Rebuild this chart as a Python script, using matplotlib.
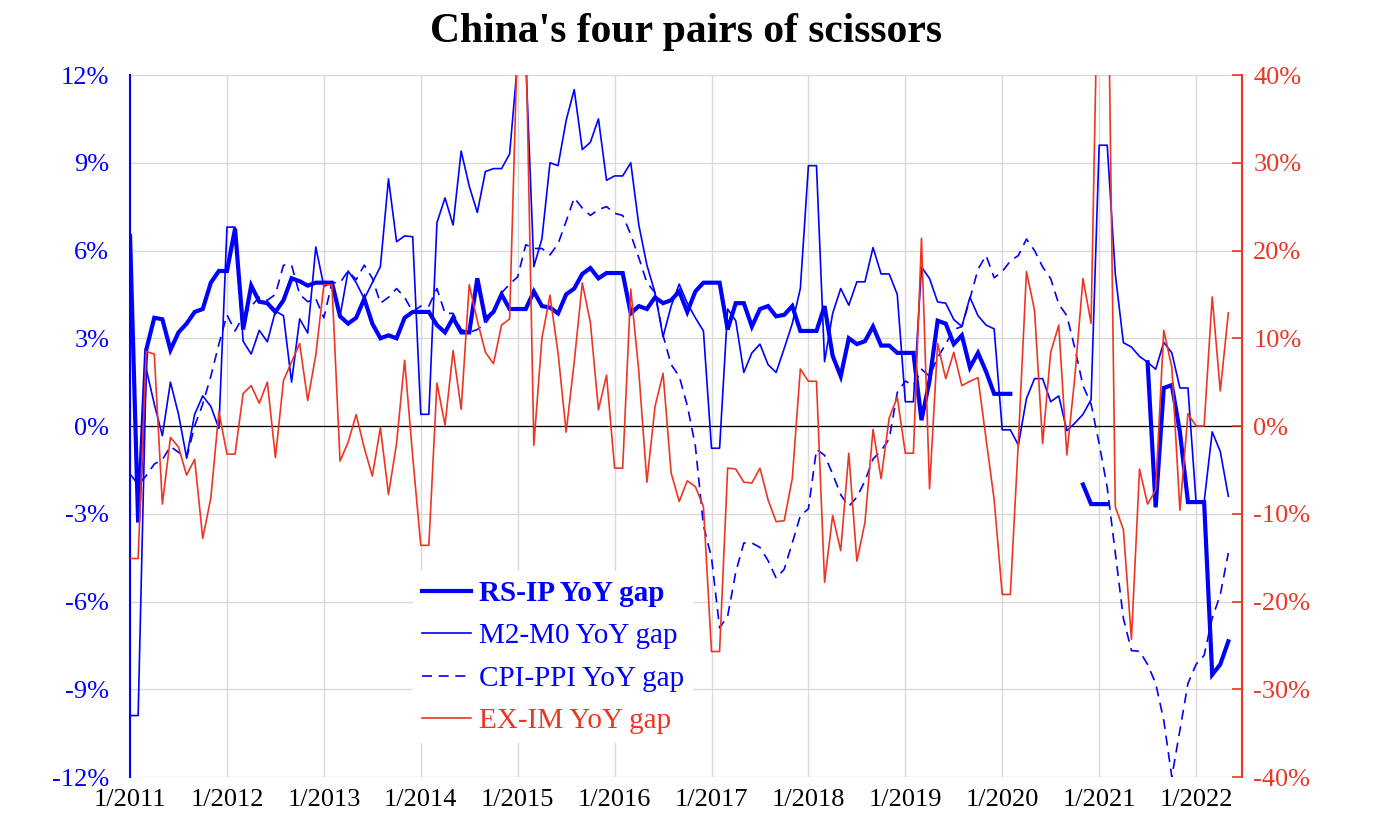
import numpy as np
import matplotlib
matplotlib.use("Agg")
import matplotlib.pyplot as plt

plt.rcParams['font.family'] = ['Liberation Serif', 'DejaVu Serif']

nan = np.nan
# Monthly data, Jan 2011 (index 0) .. May 2022 (index 136)
rs_ip = [6.5, -3.3, 2.6, 3.7, 3.65, 2.6, 3.2, 3.5, 3.9, 4.0, 4.9, 5.3,
         5.3, 6.75, 3.3, 4.8, 4.25, 4.2, 3.9, 4.3, 5.05, 4.95, 4.8, 4.9,
         4.9, 4.9, 3.75, 3.5, 3.7, 4.35, 3.5, 3.0, 3.1, 3.0, 3.7, 3.9,
         3.9, 3.9, 3.45, 3.2, 3.7, 3.2, 3.2, 5.05, 3.65, 3.9, 4.5, 4.0,
         4.0, 4.0, 4.6, 4.1, 4.05, 3.85, 4.5, 4.7, 5.2, 5.4, 5.05, 5.23,
         5.23, 5.23, 3.85, 4.1, 4.0, 4.4, 4.2, 4.3, 4.6, 3.9, 4.6, 4.9,
         4.9, 4.9, 3.3, 4.2, 4.2, 3.4, 4.0, 4.1, 3.75, 3.8, 4.1, 3.25,
         3.25, 3.25, 4.1, 2.4, 1.7, 3.0, 2.8, 2.9, 3.4, 2.75, 2.75, 2.5,
         2.5, 2.5, 0.2, 1.55, 3.6, 3.5, 2.8, 3.1, 2.0, 2.5, 1.86, 1.1,
         1.1, 1.1, nan, nan, nan, nan, nan, nan, nan, nan, -2.0, -2.67,
         -2.67, -2.67, nan, nan, nan, nan, 2.18, -2.78, 1.3, 1.4, -0.2, -2.6,
         -2.6, -2.6, -8.5, -8.15, -7.36]

m2_m0 = [-9.9, -9.9, 1.95, 0.75, -0.33, 1.5, 0.4, -1.08, 0.4, 1.03, 0.67, -0.08,
         6.8, 6.8, 2.9, 2.46, 3.27, 2.88, 3.93, 3.77, 1.5, 3.66, 3.18, 6.12,
         4.77, 4.9, 3.75, 5.3, 4.9, 4.35, 4.9, 5.45, 8.45, 6.3, 6.5, 6.47,
         0.4, 0.4, 6.95, 7.8, 6.87, 9.4, 8.2, 7.3, 8.7, 8.8, 8.8, 9.3,
         12.5, 12.5, 5.45, 6.4, 9.0, 8.9, 10.45, 11.5, 9.45, 9.7, 10.5, 8.4,
         8.55, 8.55, 9.0, 6.87, 5.5, 4.56, 3.05, 4.1, 4.85, 4.2, 3.7, 3.25,
         -0.76, -0.76, 4.0, 3.6, 1.83, 2.5, 2.8, 2.1, 1.83, 2.65, 3.5, 4.7,
         8.9, 8.9, 2.2, 3.85, 4.7, 4.13, 4.93, 4.93, 6.1, 5.2, 5.2, 4.5,
         0.83, 0.83, 5.44, 5.04, 4.24, 4.2, 3.64, 3.4, 4.4, 3.77, 3.45, 3.32,
         -0.13, -0.13, -0.65, 0.94, 1.62, 1.62, 0.83, 1.03, -0.16, 0.1, 0.4, 0.9,
         9.6, 9.6, 5.2, 2.85, 2.7, 2.38, 2.18, 1.94, 2.86, 2.5, 1.3, 1.3,
         -2.6, -2.6, -0.2, -0.87, -2.4]

cpi_ppi = [-1.64, -2.0, -1.7, -1.3, -1.15, -0.7, -0.9, -1.1, 0.0, 0.75, 1.7, 2.8,
           3.8, 3.25, 3.75, 4.1, 4.4, 4.3, 4.5, 5.5, 5.5, 4.5, 4.25, 4.35,
           3.7, 4.9, 4.9, 5.3, 5.0, 5.5, 5.05, 4.2, 4.4, 4.7, 4.4, 3.9,
           4.1, 4.1, 4.7, 3.85, 3.85, 3.3, 3.2, 3.3, 3.5, 3.9, 4.55, 4.85,
           5.1, 6.2, 6.07, 6.07, 5.85, 6.23, 7.0, 7.8, 7.45, 7.2, 7.4, 7.5,
           7.27, 7.2, 6.55, 5.75, 4.9, 4.56, 3.1, 2.1, 1.7, 0.7, -0.68, -3.4,
           -4.5, -6.9, -6.5, -5.0, -4.0, -4.0, -4.15, -4.6, -5.2, -4.9, -4.0, -3.07,
           -2.83, -0.8, -1.0, -1.64, -2.35, -2.75, -2.43, -1.88, -1.13, -0.84, -0.45, 1.14,
           1.54, 1.38, 1.94, 1.7, 2.34, 2.8, 3.3, 3.4, 4.35, 5.36, 5.83, 5.07,
           5.28, 5.64, 5.83, 6.39, 6.0, 5.44, 5.04, 4.17, 3.77, 2.65, 1.38, 0.75,
           -0.6, -2.1, -4.34, -6.57, -7.68, -7.7, -8.15, -8.8, -10.06, -12.0, -10.4, -8.8,
           -8.15, -7.84, -6.57, -5.77, -4.34]

ex_im = [-15.1, -15.1, 8.5, 8.2, -8.9, -1.3, -2.4, -5.6, -3.8, -12.8, -8.2, 1.6,
         -3.2, -3.2, 3.7, 4.6, 2.6, 5.0, -3.6, 5.2, 7.3, 9.4, 2.9, 8.1,
         16.1, 16.1, -4.0, -1.85, 1.3, -2.5, -5.7, -0.2, -7.8, -2.0, 7.5, -3.5,
         -13.6, -13.6, 4.9, 0.1, 8.6, 1.9, 16.1, 12.0, 8.4, 7.1, 11.5, 12.2,
         45.0, 45.0, -2.2, 10.0, 14.9, 8.3, -0.7, 7.3, 16.3, 11.8, 1.85, 5.8,
         -4.8, -4.8, 15.6, 6.2, -6.4, 2.2, 6.0, -5.35, -8.6, -6.25, -6.9, -9.2,
         -25.7, -25.7, -4.8, -4.9, -6.4, -6.5, -4.8, -8.4, -10.9, -10.8, -6.0, 6.5,
         5.1, 5.1, -17.8, -10.2, -14.2, -3.1, -15.4, -11.0, -0.4, -6.0, 0.9, 3.3,
         -3.1, -3.1, 21.4, -7.15, 9.4, 5.4, 8.4, 4.6, 5.1, 5.5, -1.5, -8.4,
         -19.2, -19.2, -1.75, 17.6, 13.2, -2.0, 8.4, 11.5, -3.3, 5.7, 16.8, 11.7,
         60.0, 60.0, -9.2, -11.8, -24.3, -4.9, -8.9, -7.3, 10.9, 6.7, -9.6, 1.4,
         0.0, 0.0, 14.7, 4.0, 12.9]

years = list(range(2011, 2023))
xtick_labels = [f"1/{y}" for y in years]
left_ticks = [-12, -9, -6, -3, 0, 3, 6, 9, 12]
right_ticks = [-40, -30, -20, -10, 0, 10, 20, 30, 40]
labels = ["RS-IP YoY gap", "M2-M0 YoY gap", "CPI-PPI YoY gap", "EX-IM YoY gap"]

BLUE = "#0000FF"
RED = "#EE3524"
GRID = "#D9D9D9"

months = np.arange(len(rs_ip))

fig = plt.figure(figsize=(14, 8.4), dpi=100)
ax = fig.add_axes([0.0929, 0.075, 0.7943, 0.8357])
ax2 = ax.twinx()

ax.set_xlim(0, 137.7)
ax.set_ylim(-12, 12)
ax.set_xticks([12 * i for i in range(len(years))])
ax.set_xticklabels(xtick_labels, fontsize=19)
ax.set_yticks(left_ticks)
ax.set_yticklabels([f"{v}%" for v in left_ticks], fontsize=19, color=BLUE)
ax.grid(True, color=GRID, lw=1.0)
ax.set_axisbelow(True)
ax.axhline(0, color="black", lw=0.9, zorder=1.5)
for s in ["top", "bottom", "right"]:
    ax.spines[s].set_visible(False)
ax.spines["left"].set_color(BLUE)
ax.spines["left"].set_linewidth(1.5)
ax.tick_params(axis="y", length=0, pad=15)
ax.tick_params(axis="x", length=0, pad=9)

ln1, = ax.plot(months, rs_ip, color=BLUE, lw=3.0, solid_joinstyle="miter", zorder=3)
ln2, = ax.plot(months, m2_m0, color=BLUE, lw=1.2, zorder=3)
ln3, = ax.plot(months, cpi_ppi, color=BLUE, lw=1.2, dashes=(6, 4), zorder=3)

ax2.set_ylim(-40, 40)
ax2.set_yticks(right_ticks)
ax2.set_yticklabels([f"{v}%" for v in right_ticks], fontsize=19, color=RED)
for s in ["top", "bottom", "left"]:
    ax2.spines[s].set_visible(False)
ax2.spines["right"].set_color(RED)
ax2.spines["right"].set_linewidth(1.5)
ax2.tick_params(axis="y", direction="in", length=7, width=1.2, color=RED, pad=8)
ln4, = ax2.plot(months, ex_im, color=RED, lw=1.2, zorder=3)

leg = ax2.legend([ln1, ln2, ln3, ln4], labels, loc="upper left",
                 bbox_to_anchor=(0.295, 0.32), bbox_transform=fig.transFigure,
                 frameon=True, fontsize=21, handlelength=1.7, handletextpad=0.25,
                 labelspacing=0.55, borderpad=0.3, borderaxespad=0)
leg.get_frame().set_facecolor("white")
leg.get_frame().set_edgecolor("none")
leg.get_frame().set_alpha(1.0)
cols = [BLUE, BLUE, BLUE, RED]
for t, c in zip(leg.get_texts(), cols):
    t.set_color(c)
leg.get_texts()[0].set_fontweight("bold")

fig.text(0.49, 0.962, "China's four pairs of scissors", ha="center", va="center",
         fontsize=30, fontweight="bold")

fig.savefig("out.png", dpi=100)
